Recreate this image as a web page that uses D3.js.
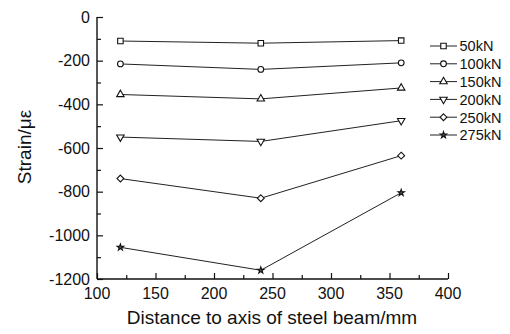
<!DOCTYPE html>
<html><head><meta charset="utf-8">
<script src="https://cdn.jsdelivr.net/npm/d3@7"></script>
<style>
html,body{margin:0;padding:0;background:#fff;}
svg text{font-family:"Liberation Sans",Arial,sans-serif;fill:#111;}
</style></head>
<body><svg id="c" width="510" height="334"></svg>
<script>
const distances = [120, 240, 360];
const seriesNames = ["50kN", "100kN", "150kN", "200kN", "250kN", "275kN"];
const s50 = [-110, -120, -108];
const s100 = [-215, -240, -210];
const s150 = [-355, -375, -325];
const s200 = [-550, -570, -475];
const s250 = [-740, -830, -635];
const s275 = [-1055, -1160, -805];
const markerTypes = ["square", "circle", "triangle", "triangleDown", "diamond", "star"];
const xTicks = [100, 150, 200, 250, 300, 350, 400];
const yTicks = [0, -200, -400, -600, -800, -1000, -1200];

const allSeries = [s50, s100, s150, s200, s250, s275];
const svg = d3.select("#c");
const L = 97, R = 448, T = 17, B = 279;
const x = d3.scaleLinear().domain([100, 400]).range([L, R]);
const y = d3.scaleLinear().domain([0, -1200]).range([T, B]);

const xAxis = d3.axisBottom(x).tickValues(d3.range(100, 401, 25)).tickSize(-5).tickFormat("");
const gx = svg.append("g").attr("transform", `translate(0,${B})`).call(xAxis);
gx.selectAll(".tick line").attr("y2", d => d % 50 === 0 ? -6 : -4);
const yAxis = d3.axisLeft(y).tickValues(d3.range(0, -1201, -100)).tickSize(-5).tickFormat("");
const gy = svg.append("g").attr("transform", `translate(${L},0)`).call(yAxis);
gy.selectAll(".tick line").attr("x2", d => d % 200 === 0 ? 6 : 4);
[gx, gy].forEach(g => {
  g.select(".domain").attr("stroke", "#111").attr("stroke-width", 1.4);
  g.selectAll(".tick line").attr("stroke", "#111").attr("stroke-width", 1.2);
});
gx.select(".domain").attr("d", `M${L},0H${R}`);
gy.select(".domain").attr("d", `M0,${T}V${B}`);

svg.append("g").selectAll("text").data(xTicks).join("text")
  .attr("x", d => x(d)).attr("y", B + 20).attr("text-anchor", "middle")
  .attr("font-size", 16).text(d => d);
svg.append("g").selectAll("text").data(yTicks).join("text")
  .attr("x", L - 7).attr("y", d => y(d) + 5.5).attr("text-anchor", "end")
  .attr("font-size", 16).text(d => d);

svg.append("text").attr("x", 272).attr("y", 324).attr("text-anchor", "middle")
  .attr("font-size", 19).text("Distance to axis of steel beam/mm");
svg.append("text").attr("transform", "translate(31,147) rotate(-90)").attr("text-anchor", "middle")
  .attr("font-size", 19).text("Strain/με");

const sym = {
  square: d3.symbol(d3.symbolSquare, 30),
  circle: d3.symbol(d3.symbolCircle, 26),
  triangle: d3.symbol(d3.symbolTriangle, 24),
  diamond: d3.symbol(d3.symbolDiamond2 || d3.symbolDiamond, 30),
  star: d3.symbol(d3.symbolStar, 13)
};
function drawMarker(g, type, cx, cy) {
  let p;
  if (type === "triangleDown") {
    p = g.append("path").attr("d", sym.triangle()).attr("transform", `translate(${cx},${cy}) rotate(180)`);
  } else {
    p = g.append("path").attr("d", sym[type]()).attr("transform", `translate(${cx},${cy})`);
  }
  p.attr("fill", type === "star" ? "#555" : "#fff").attr("stroke", "#111").attr("stroke-width", 1.1);
}

const line = d3.line().x((d, i) => x(distances[i])).y(d => y(d));
allSeries.forEach((vals, si) => {
  const g = svg.append("g");
  g.append("path").datum(vals).attr("d", line).attr("fill", "none")
    .attr("stroke", "#222").attr("stroke-width", 1);
  vals.forEach((v, i) => drawMarker(g, markerTypes[si], x(distances[i]), y(v)));
});

const lg = svg.append("g");
seriesNames.forEach((name, i) => {
  const ly = 46 + i * 17.8;
  lg.append("line").attr("x1", 430).attr("x2", 457).attr("y1", ly).attr("y2", ly)
    .attr("stroke", "#222").attr("stroke-width", 1);
  drawMarker(lg, markerTypes[i], 443.5, ly);
  lg.append("text").attr("x", 459.5).attr("y", ly + 5.3).attr("font-size", 14.5).text(name);
});
</script></body></html>
